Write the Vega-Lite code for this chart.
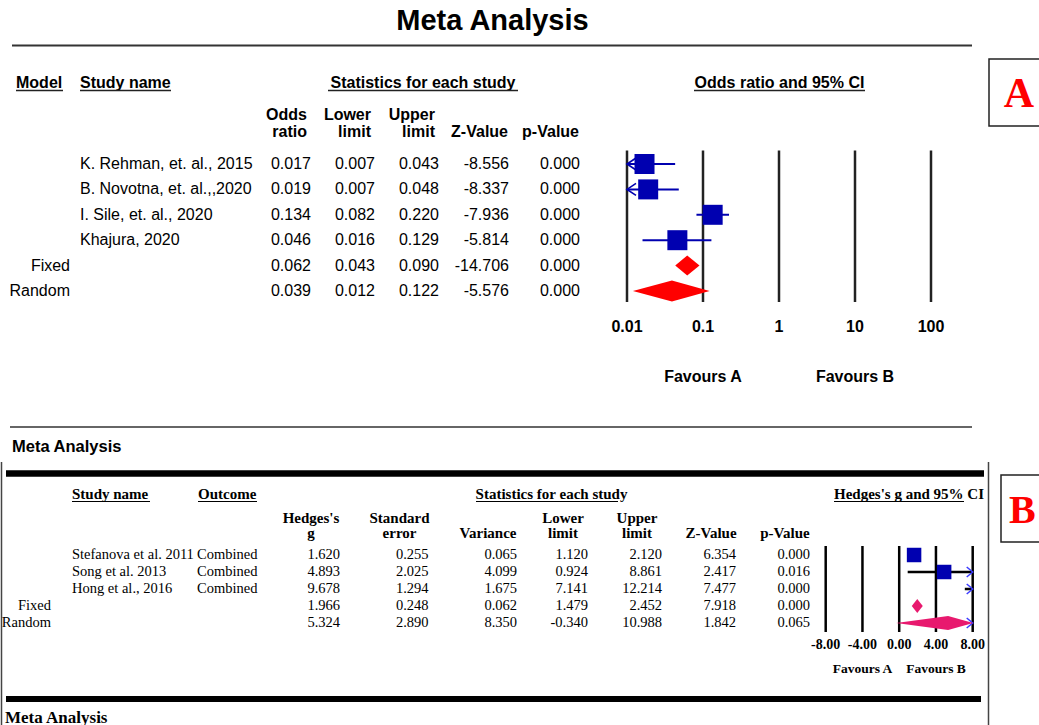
{
"$schema":"https://vega.github.io/schema/vega-lite/v6.json",
"width":1039,"height":725,"autosize":{"type":"none"},"padding":0,"background":"white",
"config":{"view":{"stroke":null},"locale":{"number":{"decimal":".","thousands":",","grouping":[3],"currency":["$",""],"minus":"-"}}},
"datasets":{
"A":[
{"row":"K. Rehman, et. al., 2015","type":"study","or":0.017,"ll":0.007,"ul":0.043,"z":-8.556,"p":0.000},
{"row":"B. Novotna, et. al.,,2020","type":"study","or":0.019,"ll":0.007,"ul":0.048,"z":-8.337,"p":0.000},
{"row":"I. Sile, et. al., 2020","type":"study","or":0.134,"ll":0.082,"ul":0.220,"z":-7.936,"p":0.000},
{"row":"Khajura, 2020","type":"study","or":0.046,"ll":0.016,"ul":0.129,"z":-5.814,"p":0.000},
{"row":"Fixed","type":"model","or":0.062,"ll":0.043,"ul":0.090,"z":-14.706,"p":0.000},
{"row":"Random","type":"model","or":0.039,"ll":0.012,"ul":0.122,"z":-5.576,"p":0.000}],
"B":[
{"row":"Stefanova et al. 2011","type":"study","outcome":"Combined","g":1.620,"se":0.255,"var":0.065,"ll":1.120,"ul":2.120,"z":6.354,"p":0.000},
{"row":"Song et al. 2013","type":"study","outcome":"Combined","g":4.893,"se":2.025,"var":4.099,"ll":0.924,"ul":8.861,"z":2.417,"p":0.016},
{"row":"Hong et al.,  2016","type":"study","outcome":"Combined","g":9.678,"se":1.294,"var":1.675,"ll":7.141,"ul":12.214,"z":7.477,"p":0.000},
{"row":"Fixed","type":"model","outcome":"","g":1.966,"se":0.248,"var":0.062,"ll":1.479,"ul":2.452,"z":7.918,"p":0.000},
{"row":"Random","type":"model","outcome":"","g":5.324,"se":2.890,"var":8.350,"ll":-0.340,"ul":10.988,"z":1.842,"p":0.065}],
"hA1":[{"key":"or","t":"Odds\nratio"},{"key":"ll","t":"Lower\nlimit"},{"key":"ul","t":"Upper\nlimit"}],
"hA2":[{"key":"z","t":"\nZ-Value"},{"key":"p","t":"\np-Value"}],
"hB1":[{"key":"g","t":"Hedges's\ng"},{"key":"se","t":"Standard\nerror"},{"key":"var","t":"\nVariance"}],
"hB2":[{"key":"ll","t":"Lower\nlimit"},{"key":"ul","t":"Upper\nlimit"},{"key":"z","t":"\nZ-Value"},{"key":"p","t":"\np-Value"}],
"ticksA":[{"v":0.01},{"v":0.1},{"v":1},{"v":10},{"v":100}],
"ticksB":[{"v":-8},{"v":-4},{"v":0},{"v":4},{"v":8}]
},
"resolve":{"scale":{"x":"independent","y":"independent","shape":"independent"}},
"layer":[
{"data":{"values":[{}]},"layer":[
 {"mark":{"type":"text","font":"Liberation Sans","fontWeight":"bold","fontSize":29,"align":"center","baseline":"alphabetic","color":"black"},
  "encoding":{"x":{"datum":492.5,"type":"quantitative","scale":{"type":"linear","domain":[0,1039],"range":[0,1039],"zero":false,"nice":false},"axis":null},"y":{"datum":30,"type":"quantitative","scale":{"type":"linear","domain":[0,725],"range":[0,725],"zero":false,"nice":false},"axis":null},"text":{"value":"Meta Analysis"}}},
 {"mark":{"type":"rule","strokeWidth":2,"color":"#333"},"encoding":{"x":{"datum":12,"type":"quantitative","axis":null},"x2":{"datum":972},"y":{"datum":45.5,"type":"quantitative","axis":null}}},
 {"mark":{"type":"rect","fill":"white","stroke":"#222","strokeWidth":1.5},"encoding":{"x":{"datum":989,"type":"quantitative","axis":null},"x2":{"datum":1060},"y":{"datum":59,"type":"quantitative","axis":null},"y2":{"datum":126}}},
 {"mark":{"type":"text","font":"Liberation Serif","fontWeight":"bold","fontSize":42,"align":"center","baseline":"alphabetic","color":"#ff0000"},"encoding":{"x":{"datum":1019,"type":"quantitative","axis":null},"y":{"datum":107,"type":"quantitative","axis":null},"text":{"value":"A"}}},
 {"mark":{"type":"text","font":"Liberation Sans","fontWeight":"bold","fontSize":16,"align":"left","baseline":"alphabetic","color":"black"},"encoding":{"x":{"datum":16,"type":"quantitative","axis":null},"y":{"datum":87.5,"type":"quantitative","axis":null},"text":{"value":"Model"}}},
 {"mark":{"type":"text","font":"Liberation Sans","fontWeight":"bold","fontSize":16,"align":"left","baseline":"alphabetic","color":"black"},"encoding":{"x":{"datum":80,"type":"quantitative","axis":null},"y":{"datum":87.5,"type":"quantitative","axis":null},"text":{"value":"Study name"}}},
 {"mark":{"type":"text","font":"Liberation Sans","fontWeight":"bold","fontSize":16,"align":"center","baseline":"alphabetic","color":"black"},"encoding":{"x":{"datum":423,"type":"quantitative","axis":null},"y":{"datum":87.5,"type":"quantitative","axis":null},"text":{"value":"Statistics for each study"}}},
 {"mark":{"type":"text","font":"Liberation Sans","fontWeight":"bold","fontSize":16,"align":"center","baseline":"alphabetic","color":"black"},"encoding":{"x":{"datum":779.5,"type":"quantitative","axis":null},"y":{"datum":87.5,"type":"quantitative","axis":null},"text":{"value":"Odds ratio and 95% CI"}}},
 {"mark":{"type":"rule","strokeWidth":1.5,"color":"#222"},"encoding":{"x":{"datum":16,"type":"quantitative","axis":null},"x2":{"datum":63},"y":{"datum":90.5,"type":"quantitative","axis":null}}},
 {"mark":{"type":"rule","strokeWidth":1.5,"color":"#222"},"encoding":{"x":{"datum":80,"type":"quantitative","axis":null},"x2":{"datum":171},"y":{"datum":90.5,"type":"quantitative","axis":null}}},
 {"mark":{"type":"rule","strokeWidth":1.5,"color":"#222"},"encoding":{"x":{"datum":328,"type":"quantitative","axis":null},"x2":{"datum":518},"y":{"datum":90.5,"type":"quantitative","axis":null}}},
 {"mark":{"type":"rule","strokeWidth":1.5,"color":"#222"},"encoding":{"x":{"datum":694,"type":"quantitative","axis":null},"x2":{"datum":865},"y":{"datum":90.5,"type":"quantitative","axis":null}}},
 {"mark":{"type":"rule","strokeWidth":1.5,"color":"#333"},"encoding":{"x":{"datum":10,"type":"quantitative","axis":null},"x2":{"datum":972},"y":{"datum":427,"type":"quantitative","axis":null}}},
 {"mark":{"type":"text","font":"Liberation Sans","fontWeight":"bold","fontSize":16.5,"align":"left","baseline":"alphabetic","color":"black"},"encoding":{"x":{"datum":12,"type":"quantitative","axis":null},"y":{"datum":452,"type":"quantitative","axis":null},"text":{"value":"Meta Analysis"}}},
 {"mark":{"type":"rule","strokeWidth":6.5,"color":"black"},"encoding":{"x":{"datum":6,"type":"quantitative","axis":null},"x2":{"datum":984},"y":{"datum":473.5,"type":"quantitative","axis":null}}},
 {"mark":{"type":"rule","strokeWidth":1.5,"color":"#444"},"encoding":{"x":{"datum":1.5,"type":"quantitative","axis":null},"y":{"datum":462,"type":"quantitative","axis":null},"y2":{"datum":725}}},
 {"mark":{"type":"rule","strokeWidth":1.5,"color":"#444"},"encoding":{"x":{"datum":988.5,"type":"quantitative","axis":null},"y":{"datum":462,"type":"quantitative","axis":null},"y2":{"datum":725}}},
 {"mark":{"type":"rect","fill":"white","stroke":"#222","strokeWidth":1.5},"encoding":{"x":{"datum":1001,"type":"quantitative","axis":null},"x2":{"datum":1060},"y":{"datum":475,"type":"quantitative","axis":null},"y2":{"datum":542}}},
 {"mark":{"type":"text","font":"Liberation Serif","fontWeight":"bold","fontSize":40,"align":"left","baseline":"alphabetic","color":"#ff0000"},"encoding":{"x":{"datum":1009,"type":"quantitative","axis":null},"y":{"datum":523,"type":"quantitative","axis":null},"text":{"value":"B"}}},
 {"mark":{"type":"text","font":"Liberation Serif","fontWeight":"bold","fontSize":15,"align":"left","baseline":"alphabetic","color":"black"},"encoding":{"x":{"datum":72,"type":"quantitative","axis":null},"y":{"datum":498.5,"type":"quantitative","axis":null},"text":{"value":"Study name"}}},
 {"mark":{"type":"text","font":"Liberation Serif","fontWeight":"bold","fontSize":15,"align":"left","baseline":"alphabetic","color":"black"},"encoding":{"x":{"datum":198,"type":"quantitative","axis":null},"y":{"datum":498.5,"type":"quantitative","axis":null},"text":{"value":"Outcome"}}},
 {"mark":{"type":"text","font":"Liberation Serif","fontWeight":"bold","fontSize":15,"align":"center","baseline":"alphabetic","color":"black"},"encoding":{"x":{"datum":551.5,"type":"quantitative","axis":null},"y":{"datum":498.5,"type":"quantitative","axis":null},"text":{"value":"Statistics for each study"}}},
 {"mark":{"type":"text","font":"Liberation Serif","fontWeight":"bold","fontSize":15,"align":"left","baseline":"alphabetic","color":"black"},"encoding":{"x":{"datum":834,"type":"quantitative","axis":null},"y":{"datum":498.5,"type":"quantitative","axis":null},"text":{"value":"Hedges's g and 95% CI"}}},
 {"mark":{"type":"rule","strokeWidth":1.2,"color":"black"},"encoding":{"x":{"datum":72,"type":"quantitative","axis":null},"x2":{"datum":150},"y":{"datum":501.5,"type":"quantitative","axis":null}}},
 {"mark":{"type":"rule","strokeWidth":1.2,"color":"black"},"encoding":{"x":{"datum":198,"type":"quantitative","axis":null},"x2":{"datum":257},"y":{"datum":501.5,"type":"quantitative","axis":null}}},
 {"mark":{"type":"rule","strokeWidth":1.2,"color":"black"},"encoding":{"x":{"datum":476,"type":"quantitative","axis":null},"x2":{"datum":618},"y":{"datum":501.5,"type":"quantitative","axis":null}}},
 {"mark":{"type":"rule","strokeWidth":1.2,"color":"black"},"encoding":{"x":{"datum":834,"type":"quantitative","axis":null},"x2":{"datum":964},"y":{"datum":501.5,"type":"quantitative","axis":null}}},
 {"mark":{"type":"rule","strokeWidth":6,"color":"black"},"encoding":{"x":{"datum":6,"type":"quantitative","axis":null},"x2":{"datum":981},"y":{"datum":699,"type":"quantitative","axis":null}}},
 {"mark":{"type":"text","font":"Liberation Serif","fontWeight":"bold","fontSize":17,"align":"left","baseline":"alphabetic","color":"black"},"encoding":{"x":{"datum":5,"type":"quantitative","axis":null},"y":{"datum":722.5,"type":"quantitative","axis":null},"text":{"value":"Meta Analysis"}}}
]},
{"layer":[
 {"data":{"name":"A"},"transform":[{"fold":["or","ll","ul"],"as":["key","val"]}],
  "mark":{"type":"text","font":"Liberation Sans","fontSize":16,"align":"right","baseline":"middle","color":"black"},
  "encoding":{"x":{"field":"key","type":"nominal","scale":{"type":"point","domain":["or","ll","ul"],"range":[311,439],"padding":0},"axis":null},
   "y":{"field":"row","type":"nominal","scale":{"type":"point","domain":["K. Rehman, et. al., 2015","B. Novotna, et. al.,,2020","I. Sile, et. al., 2020","Khajura, 2020","Fixed","Random"],"range":[164,291],"padding":0},"axis":null},
   "text":{"field":"val","type":"quantitative","format":".3f"}}},
 {"data":{"name":"hA1"},
  "mark":{"type":"text","font":"Liberation Sans","fontWeight":"bold","fontSize":16,"align":"right","baseline":"alphabetic","lineBreak":"\n","lineHeight":17,"dx":-4,"dy":-44.5,"color":"black"},
  "encoding":{"x":{"field":"key","type":"nominal","axis":null},"y":{"datum":"K. Rehman, et. al., 2015","type":"nominal","axis":null},"text":{"field":"t","type":"nominal"}}}
]},
{"layer":[
 {"data":{"name":"A"},"transform":[{"fold":["z","p"],"as":["key","val"]}],
  "mark":{"type":"text","font":"Liberation Sans","fontSize":16,"align":"right","baseline":"middle","color":"black"},
  "encoding":{"x":{"field":"key","type":"nominal","scale":{"type":"point","domain":["z","p"],"range":[509,580],"padding":0},"axis":null},
   "y":{"field":"row","type":"nominal","scale":{"type":"point","domain":["K. Rehman, et. al., 2015","B. Novotna, et. al.,,2020","I. Sile, et. al., 2020","Khajura, 2020","Fixed","Random"],"range":[164,291],"padding":0},"axis":null},
   "text":{"field":"val","type":"quantitative","format":".3f"}}},
 {"data":{"name":"hA2"},
  "mark":{"type":"text","font":"Liberation Sans","fontWeight":"bold","fontSize":16,"align":"right","baseline":"alphabetic","lineBreak":"\n","lineHeight":17,"dx":-1,"dy":-44.5,"color":"black"},
  "encoding":{"x":{"field":"key","type":"nominal","axis":null},"y":{"datum":"K. Rehman, et. al., 2015","type":"nominal","axis":null},"text":{"field":"t","type":"nominal"}}}
]},
{"data":{"name":"A"},"layer":[
 {"transform":[{"filter":"datum.type == 'study'"}],
  "mark":{"type":"text","font":"Liberation Sans","fontSize":16,"align":"left","baseline":"middle","color":"black"},
  "encoding":{"x":{"datum":80,"type":"quantitative","scale":{"type":"linear","domain":[0,1039],"range":[0,1039],"zero":false,"nice":false},"axis":null},
   "y":{"field":"row","type":"nominal","scale":{"type":"point","domain":["K. Rehman, et. al., 2015","B. Novotna, et. al.,,2020","I. Sile, et. al., 2020","Khajura, 2020","Fixed","Random"],"range":[164,291],"padding":0},"axis":null},
   "text":{"field":"row","type":"nominal"}}},
 {"transform":[{"filter":"datum.type == 'model'"}],
  "mark":{"type":"text","font":"Liberation Sans","fontSize":16,"align":"right","baseline":"middle","color":"black"},
  "encoding":{"x":{"datum":70,"type":"quantitative","axis":null},"y":{"field":"row","type":"nominal","axis":null},"text":{"field":"row","type":"nominal"}}}
]},
{"layer":[
 {"data":{"name":"ticksA"},"mark":{"type":"rule","strokeWidth":2.5,"color":"#222","yOffset":-13.5,"y2Offset":11},
  "encoding":{"x":{"field":"v","type":"quantitative","scale":{"type":"log","domain":[0.01,100],"range":[627,931],"clamp":true,"nice":false},"axis":null},
   "y":{"datum":"K. Rehman, et. al., 2015","type":"nominal","scale":{"type":"point","domain":["K. Rehman, et. al., 2015","B. Novotna, et. al.,,2020","I. Sile, et. al., 2020","Khajura, 2020","Fixed","Random"],"range":[164,291],"padding":0},"axis":null},
   "y2":{"datum":"Random"}}},
 {"data":{"name":"ticksA"},"mark":{"type":"text","font":"Liberation Sans","fontWeight":"bold","fontSize":16,"align":"center","baseline":"middle","dy":36,"color":"black"},
  "encoding":{"x":{"field":"v","type":"quantitative","axis":null},"y":{"datum":"Random","type":"nominal","axis":null},"text":{"field":"v","type":"quantitative","format":"~g"}}},
 {"data":{"name":"A"},"transform":[{"filter":"datum.type == 'study'"}],"mark":{"type":"rule","strokeWidth":2,"color":"#0000b0"},
  "encoding":{"x":{"field":"ll","type":"quantitative","axis":null},"x2":{"field":"ul"},"y":{"field":"row","type":"nominal","axis":null}}},
 {"data":{"name":"A"},"transform":[{"filter":"datum.ll < 0.01"}],"mark":{"type":"point","shape":"M9,-6L0,0L9,6","size":4,"filled":false,"stroke":"#0000b0","strokeWidth":1.6,"opacity":1},
  "encoding":{"x":{"field":"ll","type":"quantitative","axis":null},"y":{"field":"row","type":"nominal","axis":null}}},
 {"data":{"name":"A"},"transform":[{"filter":"datum.type == 'study'"}],"mark":{"type":"point","shape":"square","size":400,"filled":true,"color":"#0000b0","opacity":1},
  "encoding":{"x":{"field":"or","type":"quantitative","axis":null},"y":{"field":"row","type":"nominal","axis":null}}},
 {"data":{"name":"A"},"transform":[{"filter":"datum.type == 'model'"}],"mark":{"type":"point","size":4,"filled":true,"color":"#ff0000","opacity":1},
  "encoding":{"x":{"field":"or","type":"quantitative","axis":null},"y":{"field":"row","type":"nominal","axis":null},
   "shape":{"field":"row","type":"nominal","scale":{"domain":["Fixed","Random"],"range":["M-12,0L0,-10L12.3,0L0,10Z","M-39,0L0,-10.5L37.7,0L0,10.5Z"]},"legend":null}}},
 {"data":{"values":[{}]},"mark":{"type":"text","font":"Liberation Sans","fontWeight":"bold","fontSize":16,"align":"center","baseline":"middle","dy":86,"color":"black"},
  "encoding":{"x":{"datum":0.1,"type":"quantitative","axis":null},"y":{"datum":"Random","type":"nominal","axis":null},"text":{"value":"Favours A"}}},
 {"data":{"values":[{}]},"mark":{"type":"text","font":"Liberation Sans","fontWeight":"bold","fontSize":16,"align":"center","baseline":"middle","dy":86,"color":"black"},
  "encoding":{"x":{"datum":10,"type":"quantitative","axis":null},"y":{"datum":"Random","type":"nominal","axis":null},"text":{"value":"Favours B"}}}
]},
{"layer":[
 {"data":{"name":"B"},"transform":[{"fold":["g","se","var"],"as":["key","val"]}],
  "mark":{"type":"text","font":"Liberation Serif","fontSize":14.5,"align":"right","baseline":"middle","color":"black"},
  "encoding":{"x":{"field":"key","type":"nominal","scale":{"type":"point","domain":["g","se","var"],"range":[340,517],"padding":0},"axis":null},
   "y":{"field":"row","type":"nominal","scale":{"type":"point","domain":["Stefanova et al. 2011","Song et al. 2013","Hong et al.,  2016","Fixed","Random"],"range":[555,623],"padding":0},"axis":null},
   "text":{"field":"val","type":"quantitative","format":".3f"}}},
 {"data":{"name":"hB1"},
  "mark":{"type":"text","font":"Liberation Serif","fontWeight":"bold","fontSize":15,"align":"center","baseline":"alphabetic","lineBreak":"\n","lineHeight":15,"dx":-29,"dy":-32,"color":"black"},
  "encoding":{"x":{"field":"key","type":"nominal","axis":null},"y":{"datum":"Stefanova et al. 2011","type":"nominal","axis":null},"text":{"field":"t","type":"nominal"}}}
]},
{"layer":[
 {"data":{"name":"B"},"transform":[{"fold":["ll","ul","z","p"],"as":["key","val"]}],
  "mark":{"type":"text","font":"Liberation Serif","fontSize":14.5,"align":"right","baseline":"middle","color":"black"},
  "encoding":{"x":{"field":"key","type":"nominal","scale":{"type":"point","domain":["ll","ul","z","p"],"range":[588,810],"padding":0},"axis":null},
   "y":{"field":"row","type":"nominal","scale":{"type":"point","domain":["Stefanova et al. 2011","Song et al. 2013","Hong et al.,  2016","Fixed","Random"],"range":[555,623],"padding":0},"axis":null},
   "text":{"field":"val","type":"quantitative","format":".3f"}}},
 {"data":{"name":"hB2"},
  "mark":{"type":"text","font":"Liberation Serif","fontWeight":"bold","fontSize":15,"align":"center","baseline":"alphabetic","lineBreak":"\n","lineHeight":15,"dx":-25,"dy":-32,"color":"black"},
  "encoding":{"x":{"field":"key","type":"nominal","axis":null},"y":{"datum":"Stefanova et al. 2011","type":"nominal","axis":null},"text":{"field":"t","type":"nominal"}}}
]},
{"data":{"name":"B"},"layer":[
 {"transform":[{"filter":"datum.type == 'study'"}],
  "mark":{"type":"text","font":"Liberation Serif","fontSize":14.5,"align":"left","baseline":"middle","color":"black"},
  "encoding":{"x":{"datum":72,"type":"quantitative","scale":{"type":"linear","domain":[0,1039],"range":[0,1039],"zero":false,"nice":false},"axis":null},
   "y":{"field":"row","type":"nominal","scale":{"type":"point","domain":["Stefanova et al. 2011","Song et al. 2013","Hong et al.,  2016","Fixed","Random"],"range":[555,623],"padding":0},"axis":null},
   "text":{"field":"row","type":"nominal"}}},
 {"transform":[{"filter":"datum.type == 'study'"}],
  "mark":{"type":"text","font":"Liberation Serif","fontSize":14.5,"align":"left","baseline":"middle","color":"black"},
  "encoding":{"x":{"datum":197,"type":"quantitative","axis":null},"y":{"field":"row","type":"nominal","axis":null},"text":{"field":"outcome","type":"nominal"}}},
 {"transform":[{"filter":"datum.type == 'model'"}],
  "mark":{"type":"text","font":"Liberation Serif","fontSize":14.5,"align":"right","baseline":"middle","color":"black"},
  "encoding":{"x":{"datum":51,"type":"quantitative","axis":null},"y":{"field":"row","type":"nominal","axis":null},"text":{"field":"row","type":"nominal"}}}
]},
{"layer":[
 {"data":{"name":"ticksB"},"mark":{"type":"rule","strokeWidth":2.5,"color":"black","yOffset":-9,"y2Offset":9},
  "encoding":{"x":{"field":"v","type":"quantitative","scale":{"type":"linear","domain":[-8,8],"range":[825.7,972.7],"clamp":true,"nice":false,"zero":false},"axis":null},
   "y":{"datum":"Stefanova et al. 2011","type":"nominal","scale":{"type":"point","domain":["Stefanova et al. 2011","Song et al. 2013","Hong et al.,  2016","Fixed","Random"],"range":[555,623],"padding":0},"axis":null},
   "y2":{"datum":"Random"}}},
 {"data":{"name":"ticksB"},"mark":{"type":"text","font":"Liberation Serif","fontWeight":"bold","fontSize":14,"align":"center","baseline":"middle","dy":22,"color":"black"},
  "encoding":{"x":{"field":"v","type":"quantitative","axis":null},"y":{"datum":"Random","type":"nominal","axis":null},"text":{"field":"v","type":"quantitative","format":".2f"}}},
 {"data":{"name":"B"},"transform":[{"filter":"datum.type == 'study'"}],"mark":{"type":"rule","strokeWidth":2.5,"color":"black"},
  "encoding":{"x":{"field":"ll","type":"quantitative","axis":null},"x2":{"field":"ul"},"y":{"field":"row","type":"nominal","axis":null}}},
 {"data":{"name":"B"},"transform":[{"filter":"datum.ul > 8"}],"mark":{"type":"point","shape":"M-6,-5L0,0L-6,5","size":4,"filled":false,"stroke":"#3b3bff","strokeWidth":1.5,"opacity":1},
  "encoding":{"x":{"field":"ul","type":"quantitative","axis":null},"y":{"field":"row","type":"nominal","axis":null}}},
 {"data":{"name":"B"},"transform":[{"filter":"datum.type == 'study' && datum.g <= 8"}],"mark":{"type":"point","shape":"square","size":210,"filled":true,"color":"#0000b0","opacity":1},
  "encoding":{"x":{"field":"g","type":"quantitative","axis":null},"y":{"field":"row","type":"nominal","axis":null}}},
 {"data":{"name":"B"},"transform":[{"filter":"datum.type == 'model'"}],"mark":{"type":"point","size":4,"filled":true,"color":"#e8196e","opacity":1},
  "encoding":{"x":{"field":"g","type":"quantitative","axis":null},"y":{"field":"row","type":"nominal","axis":null},
   "shape":{"field":"row","type":"nominal","scale":{"domain":["Fixed","Random"],"range":["M-5.5,0L0,-7L5.5,0L0,7Z","M-52,0L0,-7L25,0L0,7Z"]},"legend":null}}},
 {"data":{"values":[{}]},"mark":{"type":"text","font":"Liberation Serif","fontWeight":"bold","fontSize":13.5,"align":"center","baseline":"middle","dy":46,"color":"black"},
  "encoding":{"x":{"datum":-4,"type":"quantitative","axis":null},"y":{"datum":"Random","type":"nominal","axis":null},"text":{"value":"Favours A"}}},
 {"data":{"values":[{}]},"mark":{"type":"text","font":"Liberation Serif","fontWeight":"bold","fontSize":13.5,"align":"center","baseline":"middle","dy":46,"color":"black"},
  "encoding":{"x":{"datum":4,"type":"quantitative","axis":null},"y":{"datum":"Random","type":"nominal","axis":null},"text":{"value":"Favours B"}}}
]}
]
}
